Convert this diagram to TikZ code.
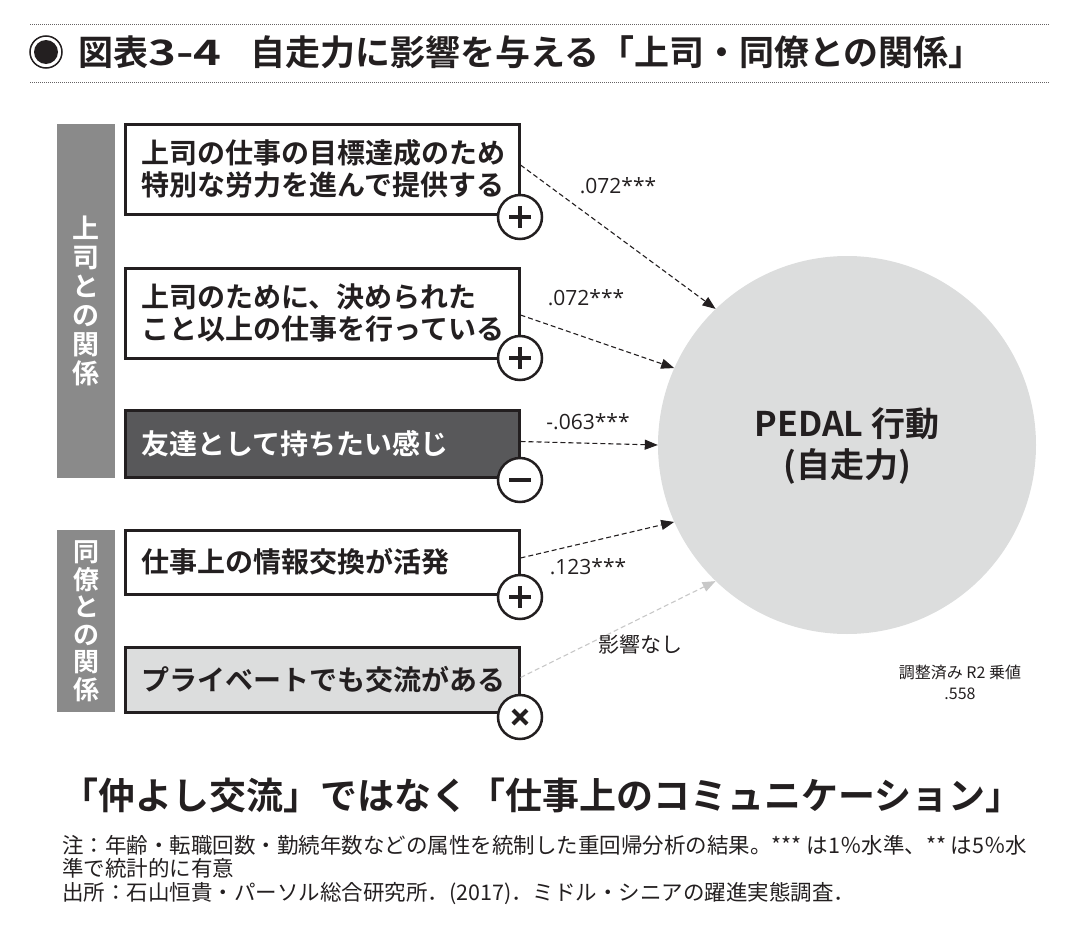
\documentclass[tikz,border=0pt]{standalone}
\usepackage{fontspec}
\setmainfont{Noto Sans CJK JP}[BoldFont={Noto Sans CJK JP Bold}]
\newfontfamily\latinlab{Open Sans}
\usetikzlibrary{arrows.meta}
\definecolor{ink}{HTML}{231F20}
\definecolor{bargray}{HTML}{8A8A8A}
\definecolor{darkbox}{HTML}{58585A}
\definecolor{lightbox}{HTML}{DCDDDD}
\definecolor{circgray}{HTML}{DCDDDD}
\definecolor{nolink}{HTML}{C8C8C8}
\tikzset{
  itembox/.style={draw=ink, line width=3pt, fill=white, inner xsep=16.5pt, inner ysep=0pt,
    text width=361pt, align=left, minimum height=#1, text=ink,
    font=\bfseries\fontsize{28}{32}\selectfont},
  sidebar/.style={fill=bargray, minimum width=58pt, minimum height=#1, inner sep=0pt,
    text=white, align=center},
  sign/.style={circle, draw=ink, line width=2.5pt, fill=white, minimum size=44pt, inner sep=0pt},
  signline/.style={draw=ink, line width=4pt},
  conn/.style={draw=ink, line width=1.1pt, dash pattern=on 5pt off 3pt,
    -{Triangle[length=13pt,width=10pt]}},
  coef/.style={text=ink, font=\latinlab\fontsize{21}{24}\selectfont},
  dotline/.style={draw=ink!70, line width=0.8pt, dash pattern=on 1pt off 1pt},
}
\begin{document}
\begin{tikzpicture}[x=1pt,y=-1pt]
\useasboundingbox (0,0) rectangle (1080,926);
% title
\coordinate (tl1a) at (30,24); \coordinate (tl1b) at (1050,24);
\coordinate (tl2a) at (30,82); \coordinate (tl2b) at (1050,82);
\draw[dotline] (tl1a) -- (tl1b);
\draw[dotline] (tl2a) -- (tl2b);
\node[circle, draw=ink, line width=1.5pt, minimum size=32pt, inner sep=0pt] (bul) at (46,52) {};
\node[circle, fill=ink, minimum size=24pt, inner sep=0pt] (buli) at (bul) {};
\node[anchor=west, inner sep=0pt, text=ink, font=\bfseries\fontsize{35}{38}\selectfont] (tnum) at (78,52) {図表\scalebox{1.35}[1]{3-4}};
\node[anchor=west, inner sep=0pt, text=ink, font=\bfseries\fontsize{35}{38}\selectfont] (ttl) at (250,52) {自走力に影響を与える「上司・同僚との関係」};
% side bars
\node[sidebar=354pt, font=\bfseries\fontsize{27}{29}\selectfont] (g1) at (86,301) {上\\司\\と\\の\\関\\係};
\node[sidebar=182pt, font=\bfseries\fontsize{26}{27.5}\selectfont] (g2) at (86,621) {同\\僚\\と\\の\\関\\係};
% boxes
\node[itembox=90pt] (b1) at (322,169) {上司の仕事の目標達成のため\\特別な労力を進んで提供する};
\node[itembox=90pt] (b2) at (322,313) {上司のために、決められた\\こと以上の仕事を行っている};
\node[itembox=67pt, fill=darkbox, text=white] (b3) at (322,443.5) {友達として持ちたい感じ};
\node[itembox=64pt] (b4) at (322,562) {仕事上の情報交換が活発};
\node[itembox=65pt, fill=lightbox] (b5) at (322,679.5) {プライベートでも交流がある};
% big circle
\node[circle, fill=circgray, minimum size=378pt, inner sep=0pt] (c) at (847,445) {};
\node[text=ink, font=\bfseries\fontsize{34}{38}\selectfont] (ct1) at (847,424) {PEDAL 行動};
\node[text=ink, font=\bfseries\fontsize{34}{38}\selectfont] (ct2) at (847,466) {(自走力)};
% connectors
\draw[conn] ([yshift=4pt]b1.east) -- (c.134);
\draw[conn] ([yshift=-2pt]b2.east) -- (c.156);
\draw[conn] ([yshift=2pt]b3.east) -- (c.west);
\draw[conn] ([yshift=4pt]b4.east) -- (c.204);
\draw[conn, draw=nolink, -{Triangle[length=13pt,width=10pt,fill=nolink]}] ([yshift=2pt]b5.east) -- (c.226);
% coefficient labels
\node[coef] (l1) at (618,186) {.072***};
\node[coef] (l2) at (586,298) {.072***};
\node[coef] (l3) at (588,422) {-.063***};
\node[coef] (l4) at (588,567) {.123***};
\node[text=ink, font=\fontsize{21}{24}\selectfont] (l5) at (640,645) {影響なし};
% signs
\node[sign] (s1) at (520,217) {};
\node[sign] (s2) at (520,358) {};
\node[sign] (s3) at (520,480) {};
\node[sign] (s4) at (520,597) {};
\node[sign] (s5) at (520,717) {};
\draw[signline] (s1) ++(-11,0) -- ++(22,0) (s1) ++(0,-11) -- ++(0,22);
\draw[signline] (s2) ++(-11,0) -- ++(22,0) (s2) ++(0,-11) -- ++(0,22);
\draw[signline] (s3) ++(-11,0) -- ++(22,0);
\draw[signline] (s4) ++(-11,0) -- ++(22,0) (s4) ++(0,-11) -- ++(0,22);
\draw[signline] (s5) ++(-7,-7) -- ++(14,14) (s5) ++(-7,7) -- ++(14,-14);
% R2
\node[text=ink, align=center, font=\fontsize{16}{21}\selectfont] (r2) at (960,682) {調整済み R2 乗値\\.558};
% headline
\node[text=ink, inner sep=0pt, font=\bfseries\fontsize{37}{42}\selectfont] (head) at (542,795) {「仲よし交流」ではなく「仕事上のコミュニケーション」};
% note
\node[anchor=north west, inner sep=0pt, text=ink, align=left, font=\fontsize{21.5}{23.5}\selectfont] (note) at (62,835)
 {注：年齢・転職回数・勤続年数などの属性を統制した重回帰分析の結果。*** は1％水準、** は5％水\\準で統計的に有意\\出所：石山恒貴・パーソル総合研究所．(2017)．ミドル・シニアの躍進実態調査．};
\end{tikzpicture}
\end{document}
